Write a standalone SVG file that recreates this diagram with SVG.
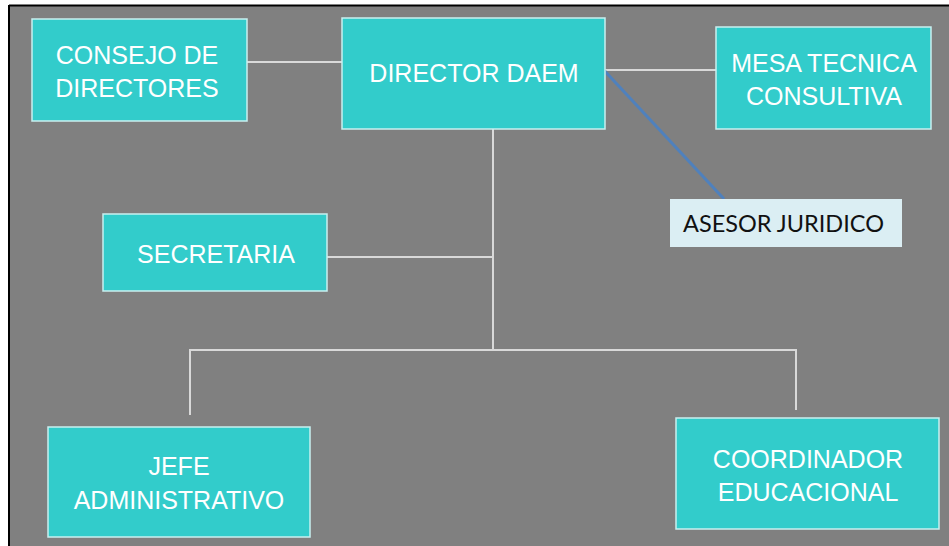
<svg xmlns="http://www.w3.org/2000/svg" width="949" height="546" viewBox="0 0 949 546">
<style>
.box{fill:#32CCCB;stroke:#C8F0F0;stroke-width:1.5}
.t{font-family:"Liberation Sans",Arial,sans-serif;font-size:25px;fill:#FFFFFF;text-anchor:middle}
.ln{stroke:#D9D9D9;stroke-width:2;fill:none}
</style>
<rect x="0" y="0" width="949" height="546" fill="#FFFFFF"/>
<rect x="9" y="5.5" width="940" height="540.5" fill="#808080"/>
<line x1="9" y1="5.5" x2="949" y2="5.5" stroke="#000" stroke-width="2"/>
<line x1="9" y1="5" x2="9" y2="546" stroke="#000" stroke-width="2"/>
<g id="connectors">
<line class="ln" x1="247" y1="62" x2="342" y2="62"/>
<line class="ln" x1="605" y1="70" x2="716" y2="70"/>
<line class="ln" x1="493" y1="129" x2="493" y2="350"/>
<line class="ln" x1="327" y1="257" x2="493" y2="257"/>
<line class="ln" x1="190" y1="350" x2="796" y2="350"/>
<line class="ln" x1="190" y1="349" x2="190" y2="415"/>
<line class="ln" x1="796" y1="349" x2="796" y2="410"/>
<line x1="601" y1="67" x2="724" y2="199" stroke="#4F81BD" stroke-width="3"/>
</g>
<g id="consejo">
<rect class="box" x="32" y="19" width="215" height="102"/>
<text class="t" x="137" y="64">CONSEJO DE</text>
<text class="t" x="137" y="97">DIRECTORES</text>
</g>
<g id="director">
<rect class="box" x="342" y="18" width="263" height="111"/>
<text class="t" x="474" y="82">DIRECTOR DAEM</text>
</g>
<g id="mesa">
<rect class="box" x="716" y="27" width="215" height="102"/>
<text class="t" x="824" y="72">MESA TECNICA</text>
<text class="t" x="824" y="105">CONSULTIVA</text>
</g>
<g id="asesor">
<rect x="670" y="199" width="232" height="48" fill="#DBEEF3"/>
<text x="683" y="232" font-family="Lato,'Liberation Sans',sans-serif" font-size="23" fill="#111" textLength="201" lengthAdjust="spacingAndGlyphs">ASESOR JURIDICO</text>
</g>
<g id="secretaria">
<rect class="box" x="103" y="214" width="224" height="77"/>
<text class="t" x="216" y="263">SECRETARIA</text>
</g>
<g id="jefe">
<rect class="box" x="48" y="427" width="262" height="110"/>
<text class="t" x="179" y="475">JEFE</text>
<text class="t" x="179" y="509">ADMINISTRATIVO</text>
</g>
<g id="coordinador">
<rect class="box" x="676" y="418" width="263" height="111"/>
<text class="t" x="808" y="468">COORDINADOR</text>
<text class="t" x="808" y="501">EDUCACIONAL</text>
</g>
</svg>
